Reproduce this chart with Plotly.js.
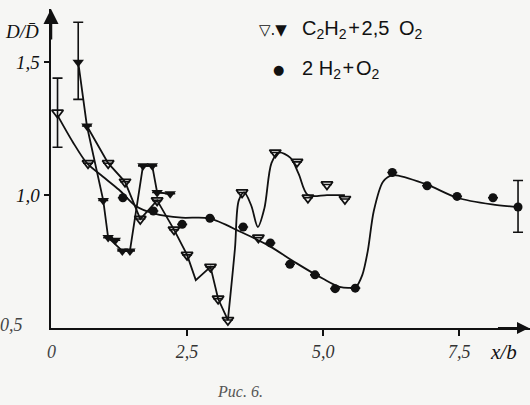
<!DOCTYPE html>
<html><head><meta charset="utf-8">
<script src="https://cdn.plot.ly/plotly-3.0.1.min.js"></script>
<style>html,body{margin:0;padding:0;background:#f6f6f4;}#c{width:530px;height:405px;}</style>
</head><body><div id="c"></div>
<script>
// Tick labels
const xTickVals = [0, 2.5, 5.0, 7.5];
const xTickText = ['0', '2,5', '5,0', '7,5'];
const yTickVals = [0.5, 1.0, 1.5];
const yTickText = ['0,5', '1,0', '1,5'];

// C2H2 + 2,5 O2 : filled triangles
const fillTriX = [0.50, 0.66, 0.96, 1.05, 1.18, 1.31, 1.45, 1.69, 1.86, 1.95, 2.19];
const fillTriY = [1.50, 1.26, 0.98, 0.84, 0.83, 0.79, 0.79, 1.11, 1.11, 1.01, 1.005];
const fillTriErrP = [0.15, null, null, null, null, null, null, null, null, null, null];
const fillTriErrM = [0.14, null, null, null, null, null, null, null, null, null, null];
const fillLineX = [0.50, 0.66, 0.96, 1.05, 1.31, 1.45, 1.69, 1.86, 1.95, 2.19];
const fillLineY = [1.50, 1.26, 0.98, 0.84, 0.79, 0.79, 1.11, 1.11, 1.01, 1.005];

// C2H2 + 2,5 O2 : open triangles
const openTriX = [0.12, 0.68, 1.05, 1.36, 1.64, 1.95, 2.26, 2.50, 2.93, 3.07, 3.25, 3.51, 3.81, 4.12, 4.52, 4.72, 5.07, 5.40];
const openTriY = [1.31, 1.12, 1.12, 1.05, 0.91, 0.98, 0.87, 0.775, 0.73, 0.61, 0.53, 1.01, 0.84, 1.16, 1.125, 0.99, 1.04, 0.985];
const openTriErrP = [0.13, null, null, null, null, null, null, null, null, null, null, null, null, null, null, null, null, null];
const openTriErrM = [0.13, null, null, null, null, null, null, null, null, null, null, null, null, null, null, null, null, null];
// polyline part of the open-triangle curve
const openLineX = [0.66, 1.05, 1.36, 1.64, 1.95, 2.26, 2.50, 2.66, 2.93, 3.07, 3.25];
const openLineY = [1.26, 1.12, 1.05, 0.91, 0.98, 0.87, 0.775, 0.68, 0.73, 0.61, 0.53];
// smooth part of the open-triangle curve
const openSmoothX = [3.25, 3.38, 3.45, 3.55, 3.68, 3.80, 3.92, 4.05, 4.18, 4.40, 4.55, 4.72, 5.07, 5.40];
const openSmoothY = [0.53, 0.80, 0.98, 1.01, 0.96, 0.88, 0.95, 1.12, 1.16, 1.14, 1.08, 1.00, 1.00, 1.00];

// 2 H2 + O2 : filled circles
const circX = [1.32, 1.88, 2.41, 2.92, 3.53, 4.03, 4.39, 4.85, 5.22, 5.59, 6.27, 6.91, 7.46, 8.12, 8.58];
const circY = [0.99, 0.94, 0.89, 0.913, 0.88, 0.82, 0.74, 0.70, 0.648, 0.65, 1.085, 1.035, 0.995, 0.99, 0.955];
const circErrP = [null, null, null, null, null, null, null, null, null, null, null, null, null, null, 0.10];
const circErrM = [null, null, null, null, null, null, null, null, null, null, null, null, null, null, 0.095];
const circFitX = [0.12, 0.40, 0.66, 0.95, 1.25, 1.55, 1.90, 2.40, 2.90, 3.50, 4.00, 4.50, 5.00, 5.30, 5.60, 5.72, 5.82, 5.93, 6.10, 6.28, 6.90, 7.46, 8.10, 8.58];
const circFitY = [1.30, 1.20, 1.12, 1.07, 1.02, 0.96, 0.93, 0.915, 0.913, 0.86, 0.81, 0.745, 0.685, 0.655, 0.655, 0.70, 0.79, 0.94, 1.05, 1.075, 1.04, 0.99, 0.965, 0.955];

const K = '#111';
const lineStyle = {color: K, width: 1.8};
const traces = [
  {x: circFitX, y: circFitY, mode: 'lines', line: Object.assign({shape: 'spline', smoothing: 0.8}, lineStyle), hoverinfo: 'skip'},
  {x: fillLineX, y: fillLineY, mode: 'lines', line: lineStyle, hoverinfo: 'skip'},
  {x: openLineX, y: openLineY, mode: 'lines', line: lineStyle, hoverinfo: 'skip'},
  {x: openSmoothX, y: openSmoothY, mode: 'lines', line: Object.assign({shape: 'spline', smoothing: 0.9}, lineStyle), hoverinfo: 'skip'},
  {x: openTriX, y: openTriY, mode: 'markers',
   marker: {symbol: 'triangle-down-open', size: 10, color: K, line: {width: 1.8, color: K}},
   error_y: {type: 'data', symmetric: false, array: openTriErrP, arrayminus: openTriErrM, color: K, thickness: 1.6, width: 5}},
  {x: fillTriX, y: fillTriY, mode: 'markers',
   marker: {symbol: 'triangle-down', size: 10, color: K},
   error_y: {type: 'data', symmetric: false, array: fillTriErrP, arrayminus: fillTriErrM, color: K, thickness: 1.6, width: 5}},
  {x: circX, y: circY, mode: 'markers',
   marker: {symbol: 'circle', size: 9, color: K},
   error_y: {type: 'data', symmetric: false, array: circErrP, arrayminus: circErrM, color: K, thickness: 1.6, width: 5}}
];

const serif = 'Liberation Serif, DejaVu Serif, serif';
const sans = 'Liberation Sans, Arial, sans-serif';
const layout = {
  width: 530, height: 405,
  margin: {l: 51, r: 0, t: 9, b: 77},
  paper_bgcolor: '#f6f6f4', plot_bgcolor: 'rgba(0,0,0,0)',
  showlegend: false,
  xaxis: {range: [0, 8.8], showgrid: false, zeroline: false, showline: true, linecolor: K, linewidth: 2,
          tickmode: 'array', tickvals: xTickVals.slice(1), ticktext: xTickText.slice(1), ticks: 'outside', ticklen: 6, tickwidth: 1.5, tickcolor: K,
          tickfont: {family: serif, size: 18, color: '#333', style: 'italic'}},
  yaxis: {range: [0.5, 1.7], showgrid: false, zeroline: false, showline: true, linecolor: K, linewidth: 2.5,
          tickmode: 'array', tickvals: yTickVals.slice(1), ticktext: yTickText.slice(1), ticks: 'outside', ticklen: 5, tickwidth: 1.5, tickcolor: K,
          tickfont: {family: serif, size: 19, color: K, style: 'italic'}},
  annotations: [
    {xref: 'paper', yref: 'paper', x: 0, y: 1.0, ax: 0, ay: 0.9, axref: 'paper', ayref: 'paper', showarrow: true, arrowhead: 2, arrowsize: 1.2, arrowwidth: 2.5, arrowcolor: K, text: ''},
    {xref: 'paper', yref: 'paper', x: 1.0, y: 0, ax: 0.93, ay: 0, axref: 'paper', ayref: 'paper', showarrow: true, arrowhead: 2, arrowsize: 1.2, arrowwidth: 2, arrowcolor: K, text: ''},
    {xref: 'paper', yref: 'paper', x: -0.11, y: 0.01, xanchor: 'left', yanchor: 'middle', showarrow: false, text: yTickText[0], font: {family: serif, size: 18, color: '#444', style: 'italic'}},
    {xref: 'paper', yref: 'paper', x: 0, y: -0.075, xanchor: 'center', yanchor: 'middle', showarrow: false, text: xTickText[0], font: {family: serif, size: 18, color: '#444', style: 'italic'}},
    {xref: 'paper', yref: 'paper', x: -0.1, y: 0.93, xanchor: 'left', yanchor: 'middle', showarrow: false, text: 'D/D\u0304', font: {family: serif, size: 19, color: K, style: 'italic'}},
    {xref: 'paper', yref: 'paper', x: 0.912, y: -0.075, xanchor: 'left', yanchor: 'middle', showarrow: false, text: 'x/b', font: {family: serif, size: 21, color: K, style: 'italic'}},
    {xref: 'paper', x: 0.395, y: -0.2, yref: 'paper', xanchor: 'center', yanchor: 'middle', showarrow: false, text: 'Рис. 6.', font: {family: serif, size: 16, color: '#555', style: 'italic'}},
    {xref: 'paper', yref: 'paper', x: 0.43, y: 0.935, xanchor: 'left', yanchor: 'middle', showarrow: false, text: '\u25BD.\u25BC', font: {family: 'DejaVu Sans', size: 15, color: K}},
    {xref: 'paper', yref: 'paper', x: 0.52, y: 0.935, xanchor: 'left', yanchor: 'middle', showarrow: false, text: 'C<sub>2</sub>H<sub>2</sub>\u200A+\u200A2,5\u2009 O<sub>2</sub>', font: {family: sans, size: 20, color: K}},
    {xref: 'paper', yref: 'paper', x: 0.46, y: 0.81, xanchor: 'left', yanchor: 'middle', showarrow: false, text: '\u25CF', font: {family: 'DejaVu Sans', size: 13, color: K}},
    {xref: 'paper', yref: 'paper', x: 0.52, y: 0.81, xanchor: 'left', yanchor: 'middle', showarrow: false, text: '2 H<sub>2</sub>\u200A+\u200AO<sub>2</sub>', font: {family: sans, size: 20, color: K}}
  ]
};
Plotly.newPlot('c', traces, layout, {staticPlot: true, displayModeBar: false});
</script></body></html>
